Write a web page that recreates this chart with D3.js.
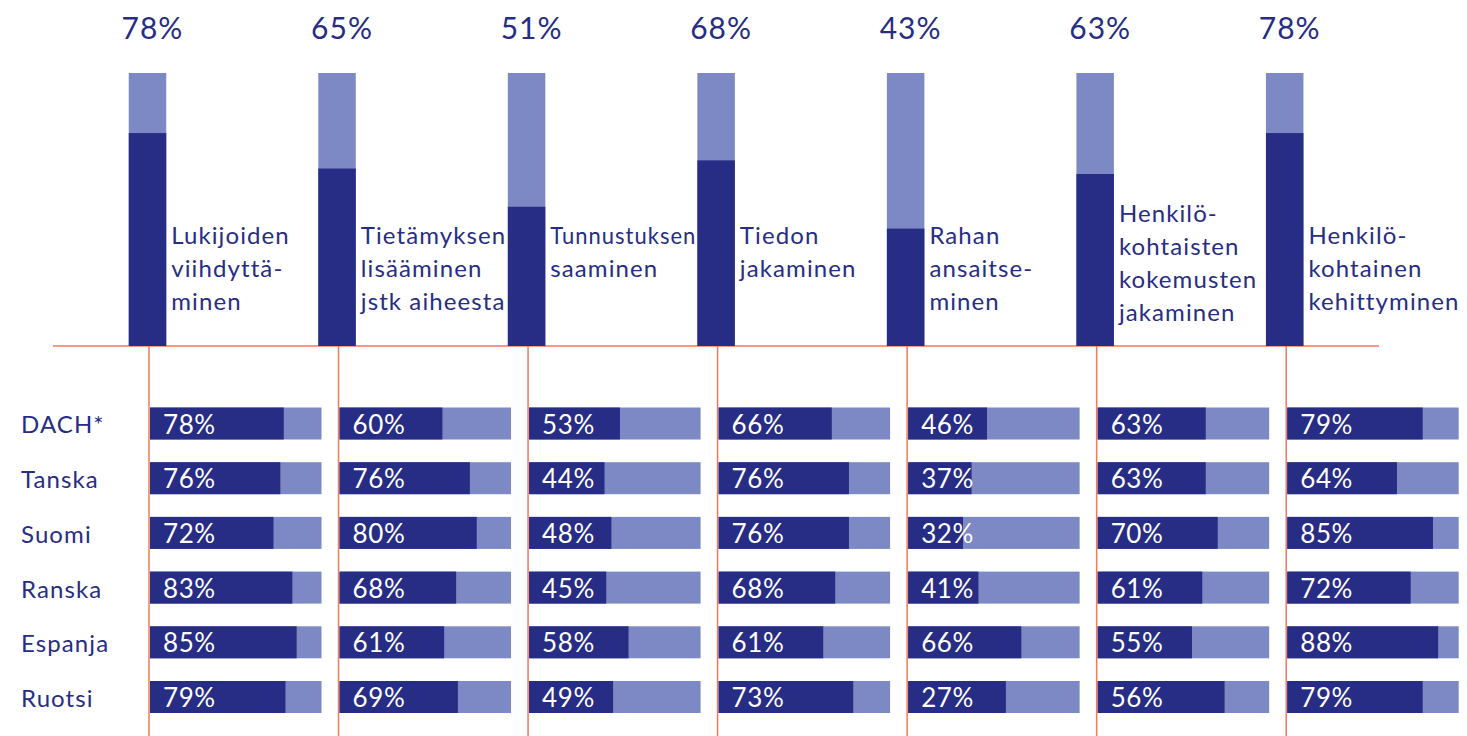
<!DOCTYPE html>
<html>
<head>
<meta charset="utf-8">
<script src="https://cdn.jsdelivr.net/npm/d3@7"></script>
<style>
    body { margin: 0; background: #fff; }
    text { font-family: Lato, "Open Sans", sans-serif; }
</style>
</head>
<body>
<div id="chart"></div>
<script>
// categories (top bars) and their wrapped labels
const categories = ["viihdytys", "tietamys", "tunnustus", "tieto", "raha", "kokemukset", "kehitys"];
const categoryLines = [
    ["Lukijoiden", "viihdyttä-", "minen"],
    ["Tietämyksen", "lisääminen", "jstk aiheesta"],
    ["Tunnustuksen", "saaminen"],
    ["Tiedon", "jakaminen"],
    ["Rahan", "ansaitse-", "minen"],
    ["Henkilö-", "kohtaisten", "kokemusten", "jakaminen"],
    ["Henkilö-", "kohtainen", "kehittyminen"]
];
const totalValues = [78, 65, 51, 68, 43, 63, 78];

// countries (bottom rows)
const countries = ["DACH*", "Tanska", "Suomi", "Ranska", "Espanja", "Ruotsi"];

// printed percentages, one list per category, in country order
const countryLabels = [
    [78, 76, 72, 83, 85, 79],
    [60, 76, 80, 68, 61, 69],
    [53, 44, 48, 45, 58, 49],
    [66, 76, 76, 68, 61, 73],
    [46, 37, 32, 41, 66, 27],
    [63, 63, 70, 61, 55, 56],
    [79, 64, 85, 72, 88, 79]
];
// bar lengths as drawn in the source (Ruotsi row does not match its labels everywhere)
const countryBars = [
    [78, 76, 72, 83, 85.5, 79],
    [60, 76, 80, 68, 61, 69],
    [53, 44, 48, 45, 58, 49],
    [66, 76, 76, 68, 61, 78.5],
    [46, 37, 32, 41, 66, 57],
    [63, 63, 70, 61, 55, 74],
    [79, 64, 85, 72, 88, 79]
];

class SplitBars {
    constructor(parentElement) {
        this.parentElement = parentElement;
        this.initVis();
    }

    initVis() {
        let vis = this;

        vis.width = 1467;
        vis.height = 736;
        vis.dark = "#272d84";
        vis.light = "#7c89c4";
        vis.rule = "#f4785c";

        vis.svg = d3.select("#" + vis.parentElement).append("svg")
            .attr("width", vis.width)
            .attr("height", vis.height);

        // columns: centre of each top bar
        vis.x = d3.scalePoint()
            .domain(categories)
            .range([147.5, 1284.7]);

        vis.barW = 37.5;

        // top bars
        vis.y = d3.scaleLinear()
            .domain([0, 100])
            .range([346, 73]);

        // bottom bars
        vis.row = d3.scaleBand()
            .domain(countries)
            .range([407.5, 713])
            .paddingInner(0.415)
            .paddingOuter(0);

        vis.len = d3.scaleLinear()
            .domain([0, 100])
            .range([0, 171.5]);

        vis.wrangleData();
    }

    wrangleData() {
        let vis = this;

        vis.topData = categories.map((c, i) => ({
            key: c, value: totalValues[i], lines: categoryLines[i],
            next: categories[i + 1]
        }));

        vis.cellData = [];
        categories.forEach((c, i) => {
            countries.forEach((country, j) => {
                vis.cellData.push({
                    key: c, country: country,
                    label: countryLabels[i][j],
                    bar: countryBars[i][j]
                });
            });
        });

        vis.updateVis();
    }

    updateVis() {
        let vis = this;

        // orange rules
        vis.svg.append("line")
            .attr("x1", 53).attr("x2", 1379)
            .attr("y1", vis.y(0)).attr("y2", vis.y(0))
            .attr("stroke", vis.rule)
            .attr("stroke-width", 1.5);

        vis.svg.selectAll(".col-rule")
            .data(categories)
            .enter().append("line")
            .attr("class", "col-rule")
            .attr("x1", d => vis.x(d) + 1.5)
            .attr("x2", d => vis.x(d) + 1.5)
            .attr("y1", vis.y(0))
            .attr("y2", vis.height)
            .attr("stroke", vis.rule)
            .attr("stroke-width", 1.5);

        // top stacked bars: full 100% in light, value in dark
        let top = vis.svg.selectAll(".top")
            .data(vis.topData)
            .enter().append("g")
            .attr("class", "top");

        top.append("rect")
            .attr("x", d => vis.x(d.key) - vis.barW / 2)
            .attr("y", vis.y(100))
            .attr("width", vis.barW)
            .attr("height", vis.y(0) - vis.y(100))
            .attr("fill", vis.light);

        top.append("rect")
            .attr("x", d => vis.x(d.key) - vis.barW / 2)
            .attr("y", d => vis.y(d.value))
            .attr("width", vis.barW)
            .attr("height", d => vis.y(0) - vis.y(d.value))
            .attr("fill", vis.dark);

        top.append("text")
            .attr("x", d => vis.x(d.key) + 5)
            .attr("y", 39)
            .attr("text-anchor", "middle")
            .attr("fill", vis.dark)
            .style("font-size", "30px")
            .style("letter-spacing", "1px")
            .text(d => d.value + "%");

        // category labels next to each bar, squeezed if they would run under the next bar
        vis.svg.selectAll(".cat-label")
            .data(vis.topData)
            .enter().append("text")
            .attr("class", "cat-label")
            .attr("fill", vis.dark)
            .style("font-size", "24px")
            .style("letter-spacing", "1.1px")
            .each(function (d) {
                let n = d.lines.length;
                let y0 = Math.min(244, 321 - (n - 1) * 33);
                let x0 = vis.x(d.key) + vis.barW / 2 + 5;
                let room = d.next ? vis.x(d.next) - vis.barW / 2 - x0 - 1 : Infinity;
                d3.select(this).selectAll("tspan")
                    .data(d.lines)
                    .enter().append("tspan")
                    .attr("x", x0)
                    .attr("y", (l, k) => y0 + k * 33)
                    .text(l => l)
                    .each(function () {
                        if (this.getComputedTextLength() > room) {
                            d3.select(this)
                                .attr("textLength", room)
                                .attr("lengthAdjust", "spacingAndGlyphs");
                        }
                    });
            });

        // country names
        vis.svg.selectAll(".country")
            .data(countries)
            .enter().append("text")
            .attr("class", "country")
            .attr("x", 21)
            .attr("y", d => vis.row(d) + vis.row.bandwidth() / 2 + 10)
            .attr("fill", vis.dark)
            .style("font-size", "24px")
            .style("letter-spacing", "1.1px")
            .text(d => d);

        // bottom bars
        let cells = vis.svg.selectAll(".cell")
            .data(vis.cellData)
            .enter().append("g")
            .attr("class", "cell")
            .attr("transform", d => `translate(${vis.x(d.key) + 2.5}, ${vis.row(d.country)})`);

        cells.append("rect")
            .attr("width", vis.len(100))
            .attr("height", vis.row.bandwidth())
            .attr("fill", vis.light);

        cells.append("rect")
            .attr("width", d => vis.len(d.bar))
            .attr("height", vis.row.bandwidth())
            .attr("fill", vis.dark);

        cells.append("text")
            .attr("x", 13)
            .attr("y", vis.row.bandwidth() / 2 + 10)
            .attr("fill", "#fff")
            .style("font-size", "26px")
            .style("letter-spacing", "0.6px")
            .text(d => d.label + "%");
    }
}

new SplitBars("chart");
</script>
</body>
</html>
